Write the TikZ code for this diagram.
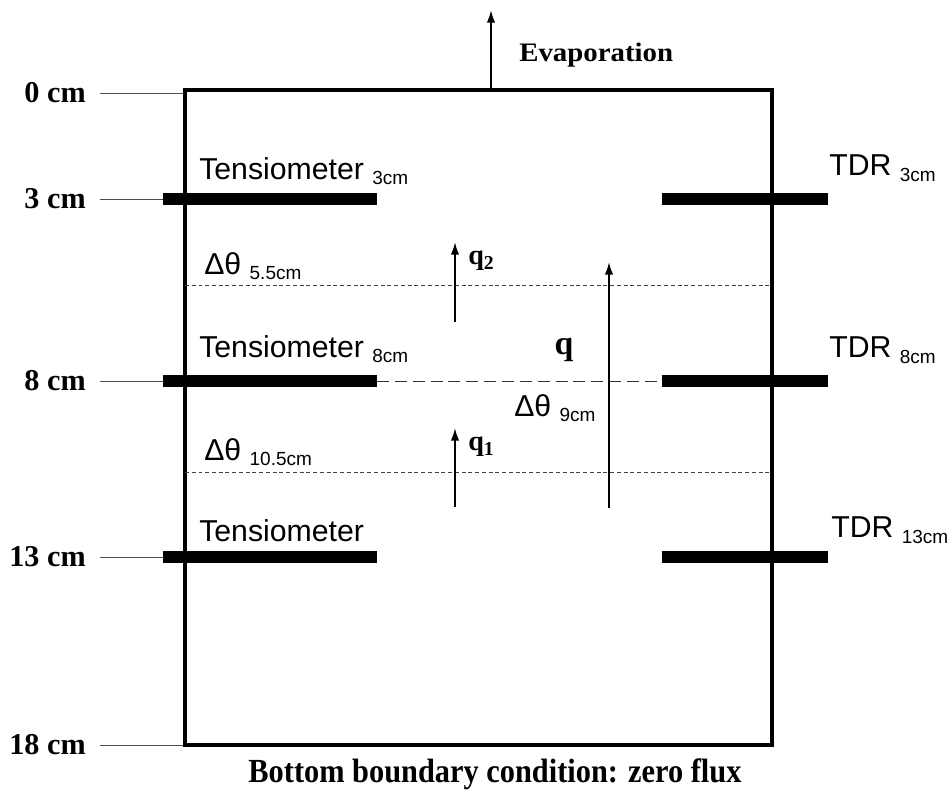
\documentclass[tikz,border=0pt]{standalone}
\usepackage{fontspec}
\setmainfont{Liberation Serif}
\setsansfont{Liberation Sans}
\usetikzlibrary{arrows.meta}
\newcommand{\subtxt}[1]{\raisebox{-0.35ex}{\fontsize{13.5}{13.5}\selectfont #1}}
\tikzset{
	sanslabel/.style={font=\sffamily\fontsize{21.5}{21.5}\selectfont, inner sep=0pt},
	depthlabel/.style={font=\bfseries\fontsize{21.5}{21.5}\selectfont, anchor=east, inner sep=0pt},
	probe/.style={line width=9.2pt},
	flux/.style={line width=1.3pt, -{Latex[length=9pt, width=6pt]}},
	layer/.style={line width=0.6pt, dash pattern=on 2.8pt off 2pt, black!75}
}
\begin{document}
\begin{tikzpicture}[x=0.025cm, y=-0.025cm]
	\useasboundingbox (0, 0) rectangle (950, 791);
	% depth marks
	\foreach \d/\y in {0/93, 3/199, 8/381, 13/557, 18/745} {
		\draw[black!70, line width=0.7pt] (100, \y) -- (185, \y);
		\node[depthlabel] (depth\d) at (86, \y) {\d\ cm};
	}
	% soil column
	\draw[line width=2.8pt] (185, 90) rectangle (772, 745);
	% layer boundaries
	\draw[layer] (185, 285) -- (772, 285);
	\draw[layer] (185, 472) -- (772, 472);
	\draw[line width=0.7pt, dash pattern=on 8.5pt off 4.2pt, black!80] (377, 381) -- (662, 381);
	% probes
	\foreach \y in {199, 381, 557} {
		\draw[probe] (163, \y) -- (377, \y);
		\draw[probe] (662, \y) -- (828, \y);
	}
	\node[sanslabel, anchor=west] (tens3) at (199, 171) {Tensiometer \subtxt{3cm}};
	\node[sanslabel, anchor=west] (tens8) at (199, 349) {Tensiometer \subtxt{8cm}};
	\node[sanslabel, anchor=west] (tens13) at (199, 531) {Tensiometer};
	\node[sanslabel, anchor=west] (tdr3) at (829, 168) {TDR \subtxt{3cm}};
	\node[sanslabel, anchor=west] (tdr8) at (829, 350) {TDR \subtxt{8cm}};
	\node[sanslabel, anchor=west] (tdr13) at (831, 530) {TDR \subtxt{13cm}};
	\node[sanslabel, anchor=west] (dth55) at (204, 266) {Δθ \subtxt{5.5cm}};
	\node[sanslabel, anchor=west] (dth105) at (204, 452) {Δθ \subtxt{10.5cm}};
	\node[sanslabel, anchor=west] (dth9) at (514, 408) {Δθ \subtxt{9cm}};
	% fluxes
	\coordinate (evapS) at (491, 90);
	\coordinate (evapE) at (491, 10);
	\draw[flux] (evapS) -- (evapE);
	\node[font=\bfseries\fontsize{19}{19}\selectfont, anchor=west, inner sep=0pt, xscale=1.08] (evap) at (519, 55) {Evaporation};
	\coordinate (q2S) at (455, 322);
	\coordinate (q2E) at (455, 242);
	\draw[flux] (q2S) -- (q2E);
	\node[font=\bfseries\fontsize{20}{20}\selectfont, anchor=west, inner sep=0pt] (q2) at (468, 261) {q\textsubscript{2}};
	\coordinate (q1S) at (455, 507);
	\coordinate (q1E) at (455, 428);
	\draw[flux] (q1S) -- (q1E);
	\node[font=\bfseries\fontsize{20}{20}\selectfont, anchor=west, inner sep=0pt] (q1) at (468, 447) {q\textsubscript{1}};
	\coordinate (qS) at (609, 508);
	\coordinate (qE) at (609, 262);
	\draw[flux] (qS) -- (qE);
	\node[font=\bfseries\fontsize{24}{24}\selectfont, inner sep=0pt] (q) at (564, 350) {q};
	% bottom boundary
	\node[font=\bfseries\fontsize{24}{24}\selectfont, inner sep=0pt, xscale=0.9] (bottom) at (495, 774) {Bottom boundary condition: zero flux};
\end{tikzpicture}
\end{document}
